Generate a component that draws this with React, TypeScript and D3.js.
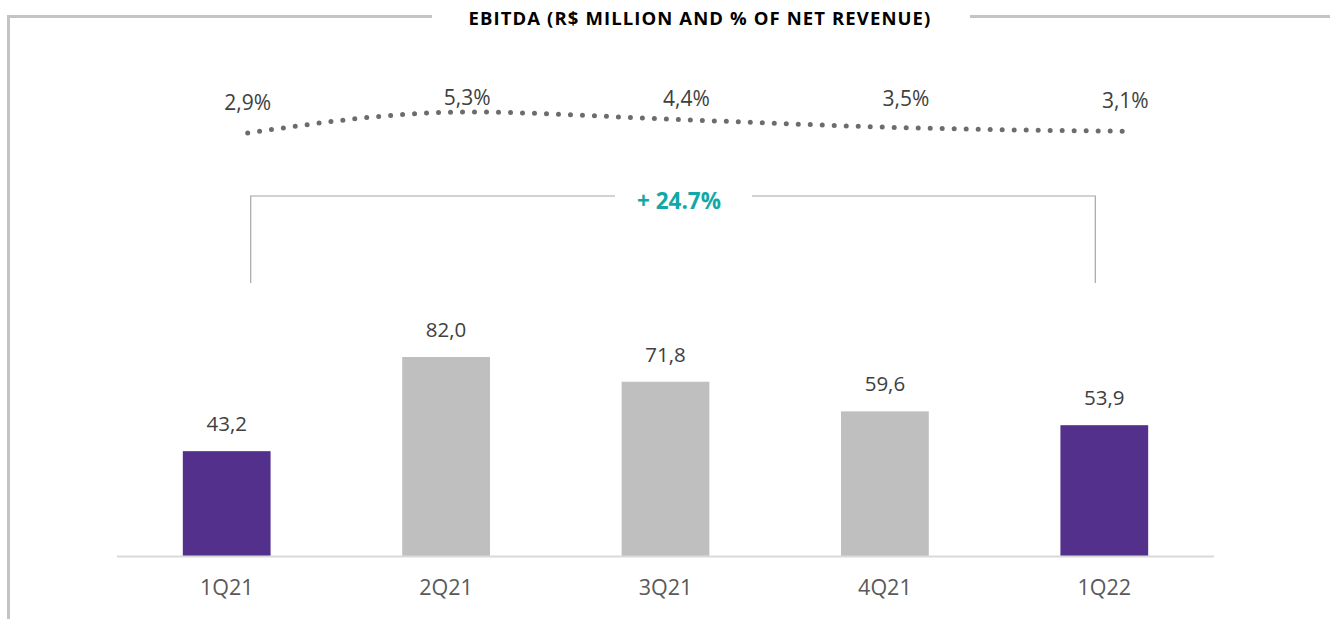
import React from "react";
import * as d3 from "d3";

const categories = ["1Q21", "2Q21", "3Q21", "4Q21", "1Q22"];
const ebitda = [43.2, 82.0, 71.8, 59.6, 53.9];
const ebitdaLabels = ["43,2", "82,0", "71,8", "59,6", "53,9"];
const margin = [2.9, 5.3, 4.4, 3.5, 3.1];
const marginLabels = ["2,9%", "5,3%", "4,4%", "3,5%", "3,1%"];
const highlight = [true, false, false, false, true];
const growthLabel = "+ 24.7%";
const title = "EBITDA (R$ MILLION AND % OF NET REVENUE)";

const W = 1330;
const H = 619;
const FONT = "'Open Sans', 'Noto Sans', sans-serif";

export default function App() {
  const x = d3.scaleBand<string>().domain(categories).range([117, 1214]).paddingInner(0.6).paddingOuter(0.3);
  const y = d3.scaleLinear().domain([0, 82]).range([556, 357]);
  const yM = d3.scaleLinear().domain([2.9, 5.3]).range([133, 112]);
  const lineOffset = 21;
  const cx = (c: string) => (x(c) as number) + x.bandwidth() / 2;
  const line = d3
    .line<number>()
    .x((_, i) => cx(categories[i]) + lineOffset)
    .y((d) => yM(d))
    .curve(d3.curveMonotoneX);
  const labelDy = [23, 7, 14, 22, 23];

  const x0 = cx(categories[0]) + 24;
  const x1 = cx(categories[categories.length - 1]) - 9;
  const bTop = 196;
  const bBot = 283;
  const midX = 679;

  return (
    <svg width={W} height={H} style={{ position: "absolute", left: 0, top: 0 }}>
      <rect width={W} height={H} fill="#fff" />
      {/* frame */}
      <path d={`M432,16.5 H8.5 V${H}`} fill="none" stroke="#c4c4c4" strokeWidth={3} />
      <path d={`M970,16.5 H${W}`} fill="none" stroke="#c4c4c4" strokeWidth={3} />
      <text x={700} y={25} textAnchor="middle" fontFamily={FONT} fontWeight={700} fontSize={18.5} letterSpacing={1.1} fill="#000">
        {title}
      </text>
      {/* margin line */}
      <path d={line(margin) || ""} fill="none" stroke="#6f6b6b" strokeWidth={5} strokeLinecap="round" strokeDasharray="0 12" />
      {margin.map((m, i) => (
        <text key={i} x={cx(categories[i]) + lineOffset} y={yM(m) - labelDy[i]} textAnchor="middle" fontFamily={FONT} fontSize={21} fill="#404040">
          {marginLabels[i]}
        </text>
      ))}
      {/* bracket */}
      <path d={`M${x0},${bBot} V${bTop} H615 M752,${bTop} H${x1} V${bBot}`} fill="none" stroke="#a6a6a6" strokeWidth={1.2} />
      <text x={midX} y={bTop + 13} textAnchor="middle" fontFamily={FONT} fontWeight={700} fontSize={22.5} fill="#12a8a8">
        {growthLabel}
      </text>
      {/* bars */}
      {ebitda.map((v, i) => (
        <rect key={i} x={x(categories[i])} y={y(v)} width={x.bandwidth()} height={y(0) - y(v)} fill={highlight[i] ? "#52308c" : "#bfbfbf"} />
      ))}
      {ebitda.map((v, i) => (
        <text key={i} x={cx(categories[i])} y={y(v) - 20} textAnchor="middle" fontFamily={FONT} fontSize={20.5} fill="#404040">
          {ebitdaLabels[i]}
        </text>
      ))}
      <line x1={117} x2={1214} y1={556.5} y2={556.5} stroke="#d9d9d9" strokeWidth={2} />
      {categories.map((c) => (
        <text key={c} x={cx(c)} y={595} textAnchor="middle" fontFamily={FONT} fontSize={21.5} fill="#595959">
          {c}
        </text>
      ))}
    </svg>
  );
}
